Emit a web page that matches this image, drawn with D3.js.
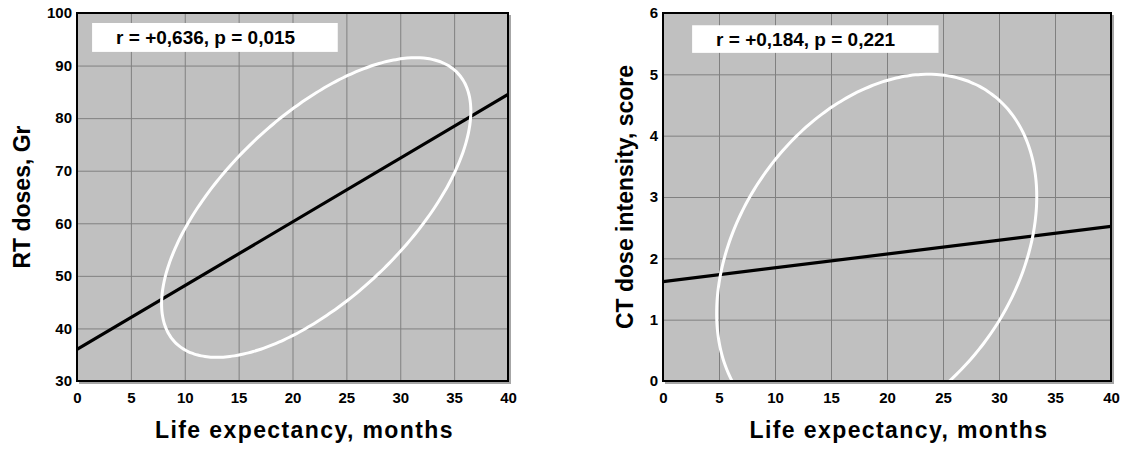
<!DOCTYPE html>
<html>
<head>
<meta charset="utf-8">
<script src="https://cdn.jsdelivr.net/npm/d3@7"></script>
<style>
  html, body { margin: 0; padding: 0; background: #fff; }
  svg { display: block; font-family: "Liberation Sans", Arial, sans-serif; }
</style>
</head>
<body>
<svg id="chart" width="1124" height="450"></svg>
<script>
// Shared x axis: life expectancy in months
const monthTicks = [0, 5, 10, 15, 20, 25, 30, 35, 40];
const monthDomain = [0, 40];

// Left panel: radiotherapy dose
const rtTicks = [30, 40, 50, 60, 70, 80, 90, 100];
const rtDomain = [30, 100];
const rtFitEnds = [36.0, 84.5];          // fitted dose at 0 and 40 months
const rtEllipse = [22.2, 63.0, 14.35, 28.5, 50]; // centre x, centre y, half-width, half-height, phase (deg)
const rtStats = "r = +0,636, p = 0,015";
const rtStatsBox = [1.4, 24.2, 98.1, 92.6]; // x0, x1, yTop, yBottom

// Right panel: chemotherapy dose intensity
const ctTicks = [0, 1, 2, 3, 4, 5, 6];
const ctDomain = [0, 6];
const ctFitEnds = [1.62, 2.52];
const ctEllipse = [19.08, 2.054, 14.29, 2.948, 71.2];
const ctStats = "r = +0,184, p = 0,221";
const ctStatsBox = [2.6, 24.6, 5.80, 5.35];

const xTitle = "Life expectancy, months";

const svg = d3.select("#chart");
const FONT = "Liberation Sans, Arial, sans-serif";

function panel(opt) {
  const x = d3.scaleLinear().domain(monthDomain).range([opt.left, opt.right]);
  const y = d3.scaleLinear().domain(opt.yDomain).range([opt.bottom, opt.top]);
  const g = svg.append("g");
  const clipId = "clip-" + opt.id;

  g.append("clipPath").attr("id", clipId)
    .append("rect")
    .attr("x", opt.left).attr("y", opt.top)
    .attr("width", opt.right - opt.left).attr("height", opt.bottom - opt.top);

  // drop shadow of the plot frame
  g.append("rect")
    .attr("x", opt.left + 2).attr("y", opt.top + 2)
    .attr("width", opt.right - opt.left + 1).attr("height", opt.bottom - opt.top + 1)
    .attr("fill", "#a6a6a6");

  // plot background
  g.append("rect")
    .attr("x", opt.left).attr("y", opt.top)
    .attr("width", opt.right - opt.left).attr("height", opt.bottom - opt.top)
    .attr("fill", "#c0c0c0");

  // grid
  g.append("g")
    .attr("transform", `translate(0,${opt.bottom})`)
    .call(d3.axisBottom(x).tickValues(monthTicks).tickSize(-(opt.bottom - opt.top)).tickFormat(""))
    .call(s => s.select(".domain").remove())
    .call(s => s.selectAll("line").attr("stroke", "#808080").attr("stroke-width", 1));
  g.append("g")
    .attr("transform", `translate(${opt.left},0)`)
    .call(d3.axisLeft(y).tickValues(opt.yTicks).tickSize(-(opt.right - opt.left)).tickFormat(""))
    .call(s => s.select(".domain").remove())
    .call(s => s.selectAll("line").attr("stroke", "#808080").attr("stroke-width", 1));

  // statistics box
  const b = opt.statsBox;
  g.append("rect")
    .attr("x", x(b[0])).attr("y", y(b[2]))
    .attr("width", x(b[1]) - x(b[0])).attr("height", y(b[3]) - y(b[2]))
    .attr("fill", "#fff");
  g.append("text")
    .attr("x", x(b[0]) + 24)
    .attr("y", (y(b[2]) + y(b[3])) / 2)
    .attr("dy", "0.36em")
    .attr("text-anchor", "start")
    .attr("font-size", 19).attr("font-weight", "bold")
    .text(opt.stats);

  // regression line
  g.append("line")
    .attr("x1", x(monthDomain[0])).attr("y1", y(opt.fit[0]))
    .attr("x2", x(monthDomain[1])).attr("y2", y(opt.fit[1]))
    .attr("stroke", "#000").attr("stroke-width", 3.2)
    .attr("clip-path", `url(#${clipId})`);

  // confidence ellipse
  const e = opt.ellipse;
  const ph = e[4] * Math.PI / 180;
  const pts = d3.range(0, 360, 2).map(a => {
    const t = a * Math.PI / 180;
    return [x(e[0] + e[2] * Math.cos(t)), y(e[1] + e[3] * Math.cos(t - ph))];
  });
  g.append("path")
    .attr("d", d3.line().curve(d3.curveCardinalClosed)(pts))
    .attr("fill", "none").attr("stroke", "#fff").attr("stroke-width", 3)
    .attr("clip-path", `url(#${clipId})`);

  // frame
  g.append("rect")
    .attr("x", opt.left).attr("y", opt.top)
    .attr("width", opt.right - opt.left).attr("height", opt.bottom - opt.top)
    .attr("fill", "none").attr("stroke", "#000").attr("stroke-width", 2);

  // tick labels
  g.append("g")
    .attr("transform", `translate(0,${opt.bottom})`)
    .call(d3.axisBottom(x).tickValues(monthTicks).tickSize(0).tickPadding(11).tickFormat(d3.format("d")))
    .call(s => s.select(".domain").remove())
    .call(s => s.selectAll("text").attr("font-size", 15).attr("font-weight", "bold")
      .attr("fill", "#000").attr("font-family", FONT));
  g.append("g")
    .attr("transform", `translate(${opt.left},0)`)
    .call(d3.axisLeft(y).tickValues(opt.yTicks).tickSize(0).tickPadding(5).tickFormat(d3.format("d")))
    .call(s => s.select(".domain").remove())
    .call(s => s.selectAll("text").attr("font-size", 15).attr("font-weight", "bold")
      .attr("fill", "#000").attr("font-family", FONT));

  // axis titles
  g.append("text")
    .attr("x", (opt.left + opt.right) / 2 + 12).attr("y", 438)
    .attr("text-anchor", "middle")
    .attr("font-size", 23).attr("font-weight", "bold")
    .attr("letter-spacing", 1.4)
    .text(xTitle);
  g.append("text")
    .attr("transform", `translate(${opt.titleX},${(opt.top + opt.bottom) / 2}) rotate(-90)`)
    .attr("text-anchor", "middle")
    .attr("dy", "0.36em")
    .attr("font-size", 23).attr("font-weight", "bold")
    .text(opt.yTitle);
}

panel({
  id: "rt", left: 77, right: 508, top: 13, bottom: 381,
  yDomain: rtDomain, yTicks: rtTicks, fit: rtFitEnds, ellipse: rtEllipse,
  stats: rtStats, statsBox: rtStatsBox, yTitle: "RT doses, Gr", titleX: 22
});

panel({
  id: "ct", left: 663, right: 1111, top: 13, bottom: 381,
  yDomain: ctDomain, yTicks: ctTicks, fit: ctFitEnds, ellipse: ctEllipse,
  stats: ctStats, statsBox: ctStatsBox, yTitle: "CT dose intensity, score", titleX: 625
});
</script>
</body>
</html>
